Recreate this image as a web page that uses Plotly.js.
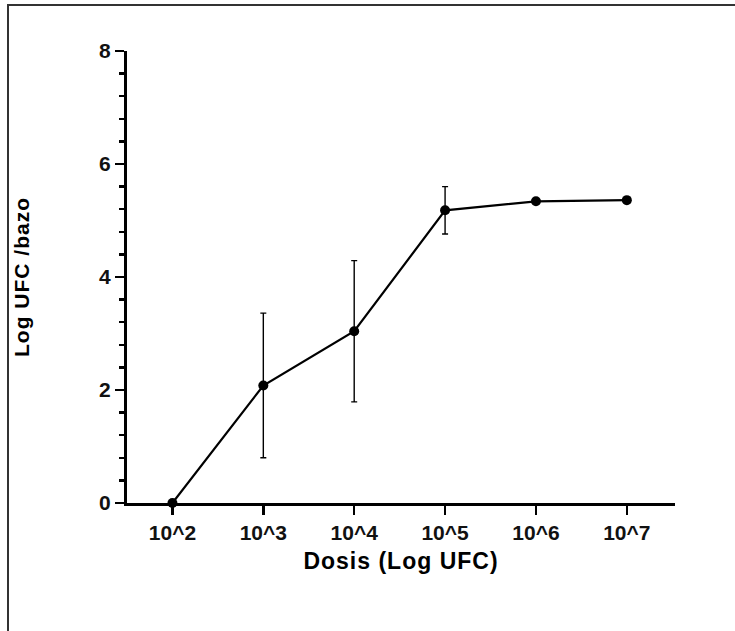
<!DOCTYPE html>
<html>
<head>
<meta charset="utf-8">
<script src="https://cdn.plot.ly/plotly-3.0.1.min.js"></script>
<style>
  html, body { margin: 0; padding: 0; background: #fff; overflow: hidden; }
  #chart { width: 735px; height: 631px; }
  #frame { position: absolute; left: 7px; top: 4px; width: 740px; height: 640px;
           border-top: 2px solid #333; border-left: 2px solid #333; pointer-events: none; }
  .xtitle, .ytitle { letter-spacing: 1px; }
</style>
</head>
<body>
<div id="chart"></div>
<div id="frame"></div>
<script>
const doses = ['10^2', '10^3', '10^4', '10^5', '10^6', '10^7'];
const meanLogUFC = [0, 2.08, 3.04, 5.18, 5.34, 5.36];
const errLogUFC = [0, 1.28, 1.25, 0.42, 0, 0];
const yTickVals = [0, 2, 4, 6, 8];

const trace = {
  type: 'scatter',
  mode: 'lines+markers',
  x: doses,
  y: meanLogUFC,
  cliponaxis: false,
  line: { color: '#000', width: 2.2 },
  marker: { color: '#000', size: 10, symbol: 'circle' },
  error_y: { type: 'data', array: errLogUFC, visible: true, color: '#000', thickness: 1.4, width: 3 }
};

const tickFont = { size: 21, family: 'Arial, "Liberation Sans", sans-serif', color: '#111', weight: 'bold' };

const layout = {
  width: 735, height: 631,
  margin: { l: 127, r: 60, t: 51, b: 128 },
  paper_bgcolor: '#fff', plot_bgcolor: '#fff',
  showlegend: false,
  font: { family: 'Arial, "Liberation Sans", sans-serif', color: '#000', size: 21 },
  xaxis: {
    type: 'category',
    range: [-0.5, 5.53],
    showgrid: false, zeroline: false,
    showline: true, linecolor: '#000', linewidth: 3,
    ticks: 'outside', ticklen: 9, tickwidth: 2.5, tickcolor: '#000',
    tickfont: tickFont,
    title: { text: '<b>Dosis (Log UFC)</b>', font: { size: 23, color: '#000' }, standoff: 10 }
  },
  yaxis: {
    range: [0, 8],
    tickvals: yTickVals,
    showgrid: false, zeroline: false,
    showline: true, linecolor: '#000', linewidth: 3,
    ticks: 'outside', ticklen: 9, tickwidth: 2.5, tickcolor: '#000',
    minor: { dtick: 0.4, ticks: 'outside', ticklen: 5, tickwidth: 2.5, tickcolor: '#000', showgrid: false },
    tickfont: tickFont,
    title: { text: '<b>Log UFC /bazo</b>', font: { size: 21, color: '#000' }, standoff: 64 }
  }
};

Plotly.newPlot('chart', [trace], layout, { displayModeBar: false, staticPlot: true });
</script>
</body>
</html>
